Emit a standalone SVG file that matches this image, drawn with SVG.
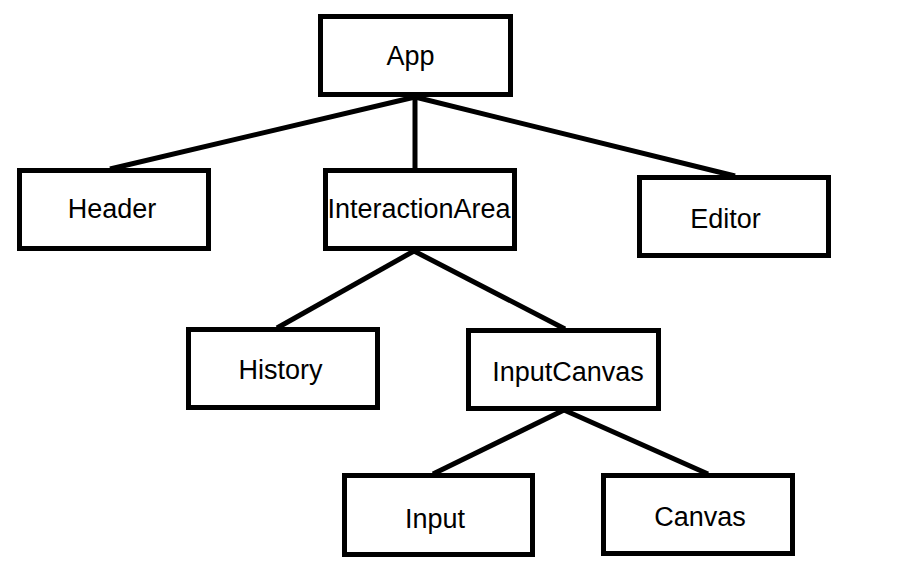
<svg xmlns="http://www.w3.org/2000/svg" width="916" height="567" viewBox="0 0 916 567">
<style>
.box{fill:#fff;stroke:#000;stroke-width:5}
.lbl{font-family:"Liberation Sans",Arial,sans-serif;font-size:27px;fill:#000;text-anchor:middle}
.edge{stroke:#000;stroke-width:5;fill:none}
</style>
<rect width="916" height="567" fill="#fff"/>
<g id="connectors">
<line class="edge" x1="415" y1="97" x2="110" y2="169"/>
<line class="edge" x1="415" y1="97" x2="415" y2="169"/>
<line class="edge" x1="415" y1="97" x2="735" y2="176"/>
<line class="edge" x1="414" y1="251" x2="277" y2="328"/>
<line class="edge" x1="414" y1="251" x2="565" y2="329"/>
<line class="edge" x1="564" y1="410" x2="433" y2="474"/>
<line class="edge" x1="564" y1="410" x2="708" y2="474"/>
</g>
<g id="app"><rect class="box" x="320.5" y="16.5" width="190" height="78"/><text class="lbl" x="410.5" y="65">App</text></g>
<g id="header"><rect class="box" x="19.5" y="170.5" width="189" height="78"/><text class="lbl" x="112" y="218">Header</text></g>
<g id="interactionArea"><rect class="box" x="325.5" y="170.5" width="189" height="78"/><text class="lbl" x="419" y="218">InteractionArea</text></g>
<g id="editor"><rect class="box" x="639.5" y="177.5" width="189" height="78"/><text class="lbl" x="725.5" y="228">Editor</text></g>
<g id="history"><rect class="box" x="188.5" y="329.5" width="189" height="78"/><text class="lbl" x="280.5" y="379">History</text></g>
<g id="inputCanvas"><rect class="box" x="468.5" y="330.5" width="190" height="78"/><text class="lbl" x="568" y="381">InputCanvas</text></g>
<g id="input"><rect class="box" x="344.5" y="475.5" width="188" height="79"/><text class="lbl" x="435" y="528">Input</text></g>
<g id="canvas"><rect class="box" x="603.5" y="475.5" width="189" height="78"/><text class="lbl" x="700" y="526">Canvas</text></g>
</svg>
